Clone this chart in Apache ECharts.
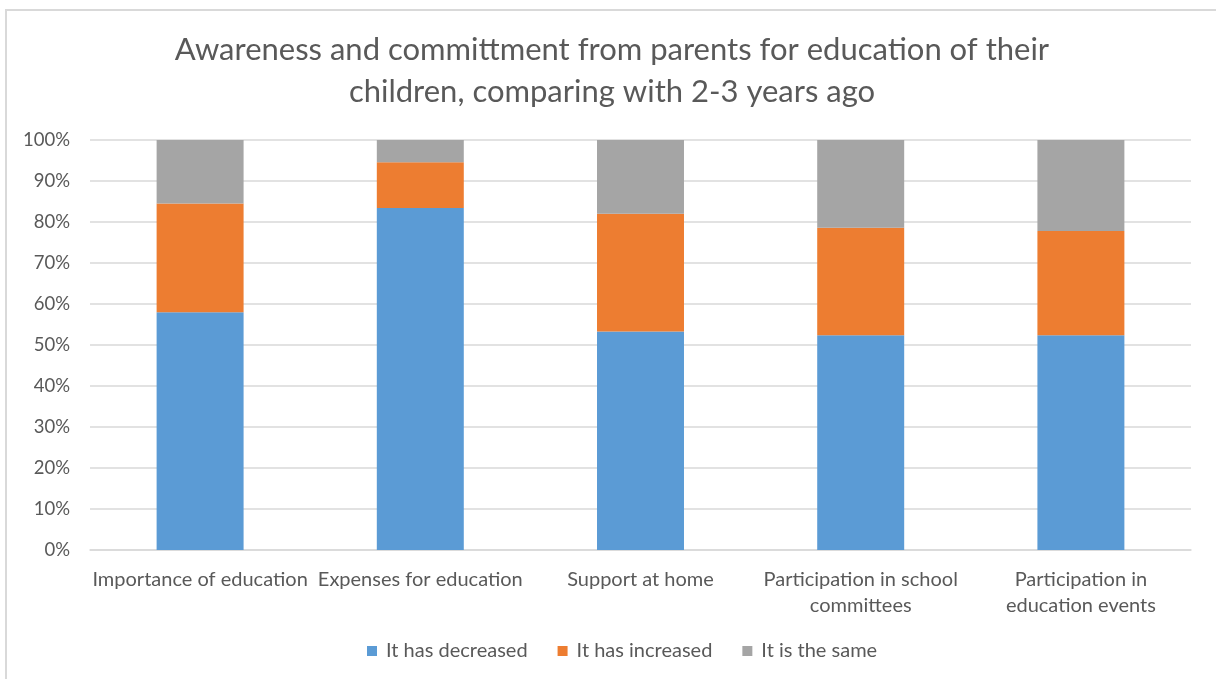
<!DOCTYPE html>
<html>
<head>
<meta charset="utf-8">
<style>
  html, body { margin: 0; padding: 0; background: #ffffff; }
  #chart { width: 1216px; height: 679px; }
</style>
<script src="https://cdn.jsdelivr.net/npm/echarts@6/dist/echarts.min.js"></script>
</head>
<body>
<div id="chart"></div>
<script>
// Survey answers per topic, as shares of respondents (%)
const categories = [
  'Importance of education',
  'Expenses for education',
  'Support at home',
  'Participation in school\ncommittees',
  'Participation in\neducation events'
];
const decreased = [58.0, 83.4, 53.3, 52.4, 52.4];
const increased = [26.5, 11.2, 28.7, 26.2, 25.4];
const same      = [15.5, 5.4, 18.0, 21.4, 22.2];
const seriesNames = ['It has decreased', 'It has increased', 'It is the same'];
const titleText = 'Awareness and committment from parents for education of their\nchildren, comparing with 2-3 years ago';

const FONT = 'Lato';
const TEXT = '#595959';

const chart = echarts.init(document.getElementById('chart'), null, { renderer: 'canvas' });

function barSeries(name, data, color) {
  return {
    name: name,
    type: 'bar',
    stack: 'total',
    barWidth: '39.5%',
    data: data,
    itemStyle: { color: color },
    emphasis: { disabled: true }
  };
}

chart.setOption({
  animation: false,
  textStyle: { fontFamily: FONT },
  graphic: [
    {
      type: 'rect',
      shape: { x: 6, y: 10, width: 1240, height: 700 },
      style: { fill: 'none', stroke: '#d9d9d9', lineWidth: 2 },
      silent: true
    },
    {
      type: 'text',
      x: 612,
      y: 29,
      style: {
        text: titleText,
        fill: TEXT,
        font: '31px ' + FONT,
        textAlign: 'center',
        lineHeight: 42
      },
      silent: true
    }
  ],
  grid: { left: 90, right: 25, top: 140, bottom: 129, containLabel: false },
  legend: {
    data: seriesNames,
    bottom: 13,
    left: 362,
    icon: 'rect',
    itemWidth: 10,
    itemHeight: 10,
    itemGap: 30,
    textStyle: { color: TEXT, fontSize: 20, fontFamily: FONT, padding: [0, 0, 0, 4] },
    selectedMode: false
  },
  xAxis: {
    type: 'category',
    data: categories,
    axisLine: { lineStyle: { color: '#d9d9d9', width: 1.5 } },
    axisTick: { show: false },
    axisLabel: {
      color: TEXT,
      fontSize: 20,
      fontFamily: FONT,
      margin: 17,
      lineHeight: 26,
      interval: 0
    }
  },
  yAxis: {
    type: 'value',
    min: 0,
    max: 100,
    interval: 10,
    axisLine: { show: false },
    axisTick: { show: false },
    splitLine: { lineStyle: { color: '#d9d9d9', width: 1.5 } },
    axisLabel: {
      color: TEXT,
      fontSize: 18.5,
      fontFamily: FONT,
      margin: 20,
      formatter: '{value}%'
    }
  },
  series: [
    barSeries(seriesNames[0], decreased, '#5B9BD5'),
    barSeries(seriesNames[1], increased, '#ED7D31'),
    barSeries(seriesNames[2], same, '#A5A5A5')
  ]
});
</script>
</body>
</html>
